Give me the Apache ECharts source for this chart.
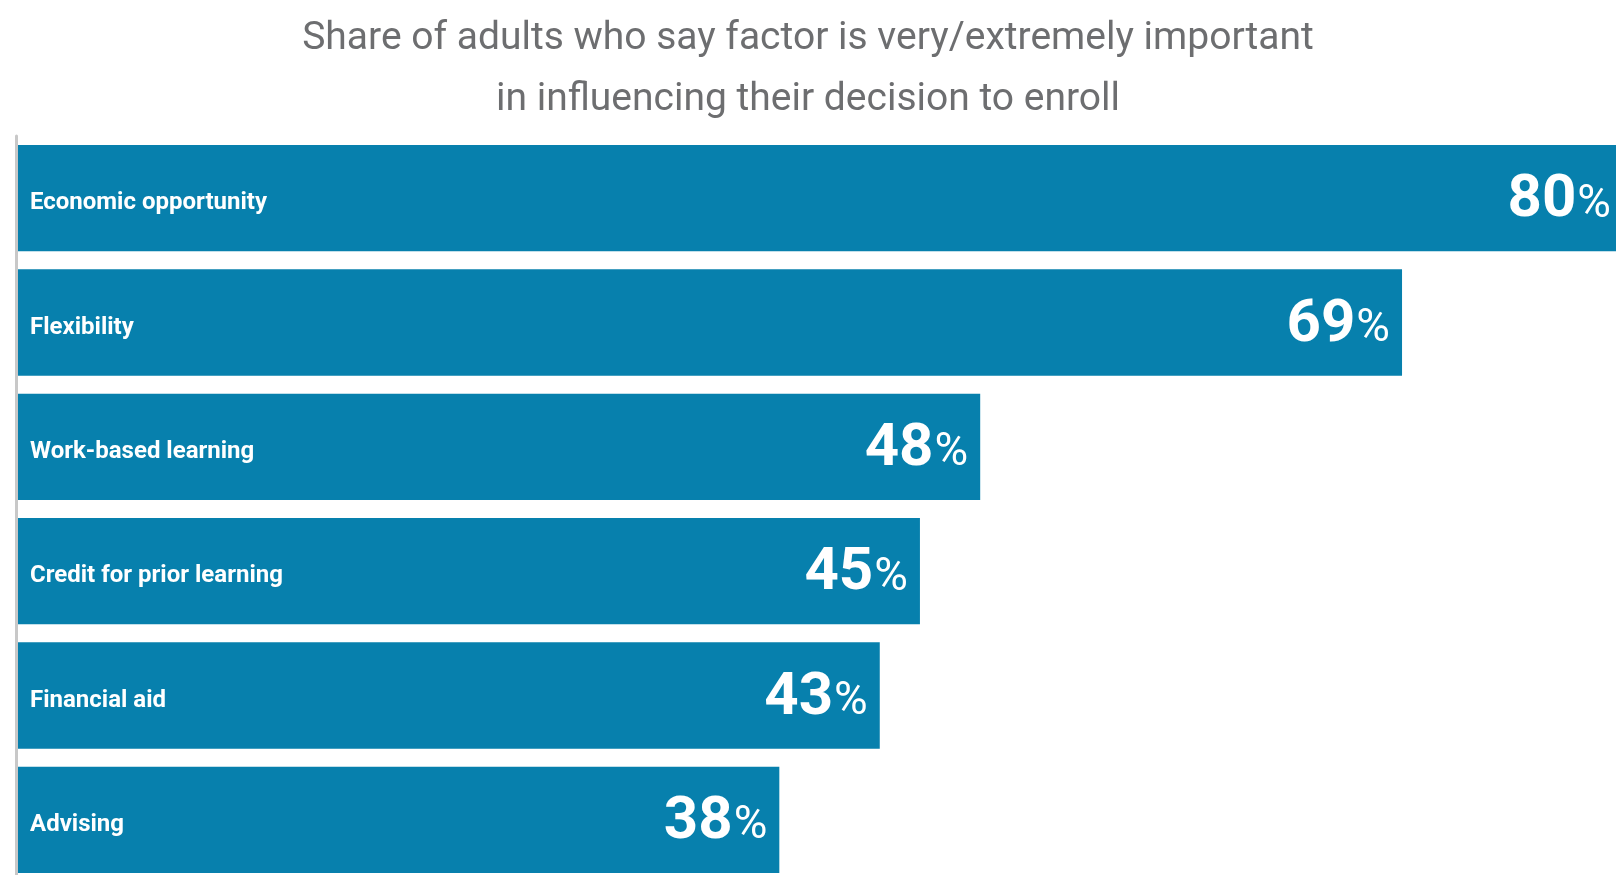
<!DOCTYPE html>
<html>
<head>
<meta charset="utf-8">
<script src="https://cdn.jsdelivr.net/npm/echarts@6/dist/echarts.min.js"></script>
<style>
  html, body { margin: 0; padding: 0; background: #fff; }
  #chart { width: 1616px; height: 875px; }
</style>
</head>
<body>
<div id="chart"></div>
<script>
var factors = ['Economic opportunity', 'Flexibility', 'Work-based learning', 'Credit for prior learning', 'Financial aid', 'Advising'];
var shares = [80, 69, 48, 45, 43, 38];

var chart = echarts.init(document.getElementById('chart'));
var option = {
    backgroundColor: '#fff',
    animation: false,
    title: {
        text: 'Share of adults who say factor is very/extremely important\nin influencing their decision to enroll',
        left: 'center',
        top: 4,
        textStyle: {
            color: '#6d6e70',
            fontFamily: 'Roboto',
            fontWeight: 'normal',
            fontSize: 39,
            lineHeight: 61
        }
    },
    // grid runs a little past the right and bottom edges, like the original crop
    grid: {
        left: 16,
        top: 136,
        width: 1607,
        height: 746,
        outerBoundsMode: 'none',
        containLabel: false
    },
    xAxis: {
        type: 'value',
        min: 0,
        max: 80,
        show: false
    },
    yAxis: {
        type: 'category',
        inverse: true,
        data: factors,
        z: 10,
        axisLine: {
            show: true,
            lineStyle: { color: '#c8c8c8', width: 3 }
        },
        axisTick: { show: false },
        axisLabel: {
            inside: true,
            margin: 14,
            formatter: function (v) {
                return '{l|' + v + '}';
            },
            rich: {
                l: {
                    color: '#fff',
                    fontFamily: 'Roboto',
                    fontWeight: 'bold',
                    fontSize: 24,
                    padding: [10, 0, 0, 0]
                }
            }
        }
    },
    series: [{
        type: 'bar',
        data: shares,
        barCategoryGap: '14.5%',
        itemStyle: { color: '#0780ad' },
        label: {
            show: true,
            position: 'insideRight',
            distance: 12,
            offset: [0, 3],
            formatter: function (p) {
                return '{a|' + p.value + '}{b|%}';
            },
            rich: {
                a: {
                    color: '#fff',
                    fontFamily: 'Roboto',
                    fontWeight: 'bold',
                    fontSize: 60,
                    verticalAlign: 'bottom'
                },
                b: {
                    color: '#fff',
                    fontFamily: 'Roboto',
                    fontWeight: 'normal',
                    fontSize: 46,
                    verticalAlign: 'bottom',
                    padding: [0, 0, 3, 1]
                }
            }
        }
    }]
};
chart.setOption(option);
window.addEventListener('resize', function () {
    chart.resize();
});
</script>
</body>
</html>
